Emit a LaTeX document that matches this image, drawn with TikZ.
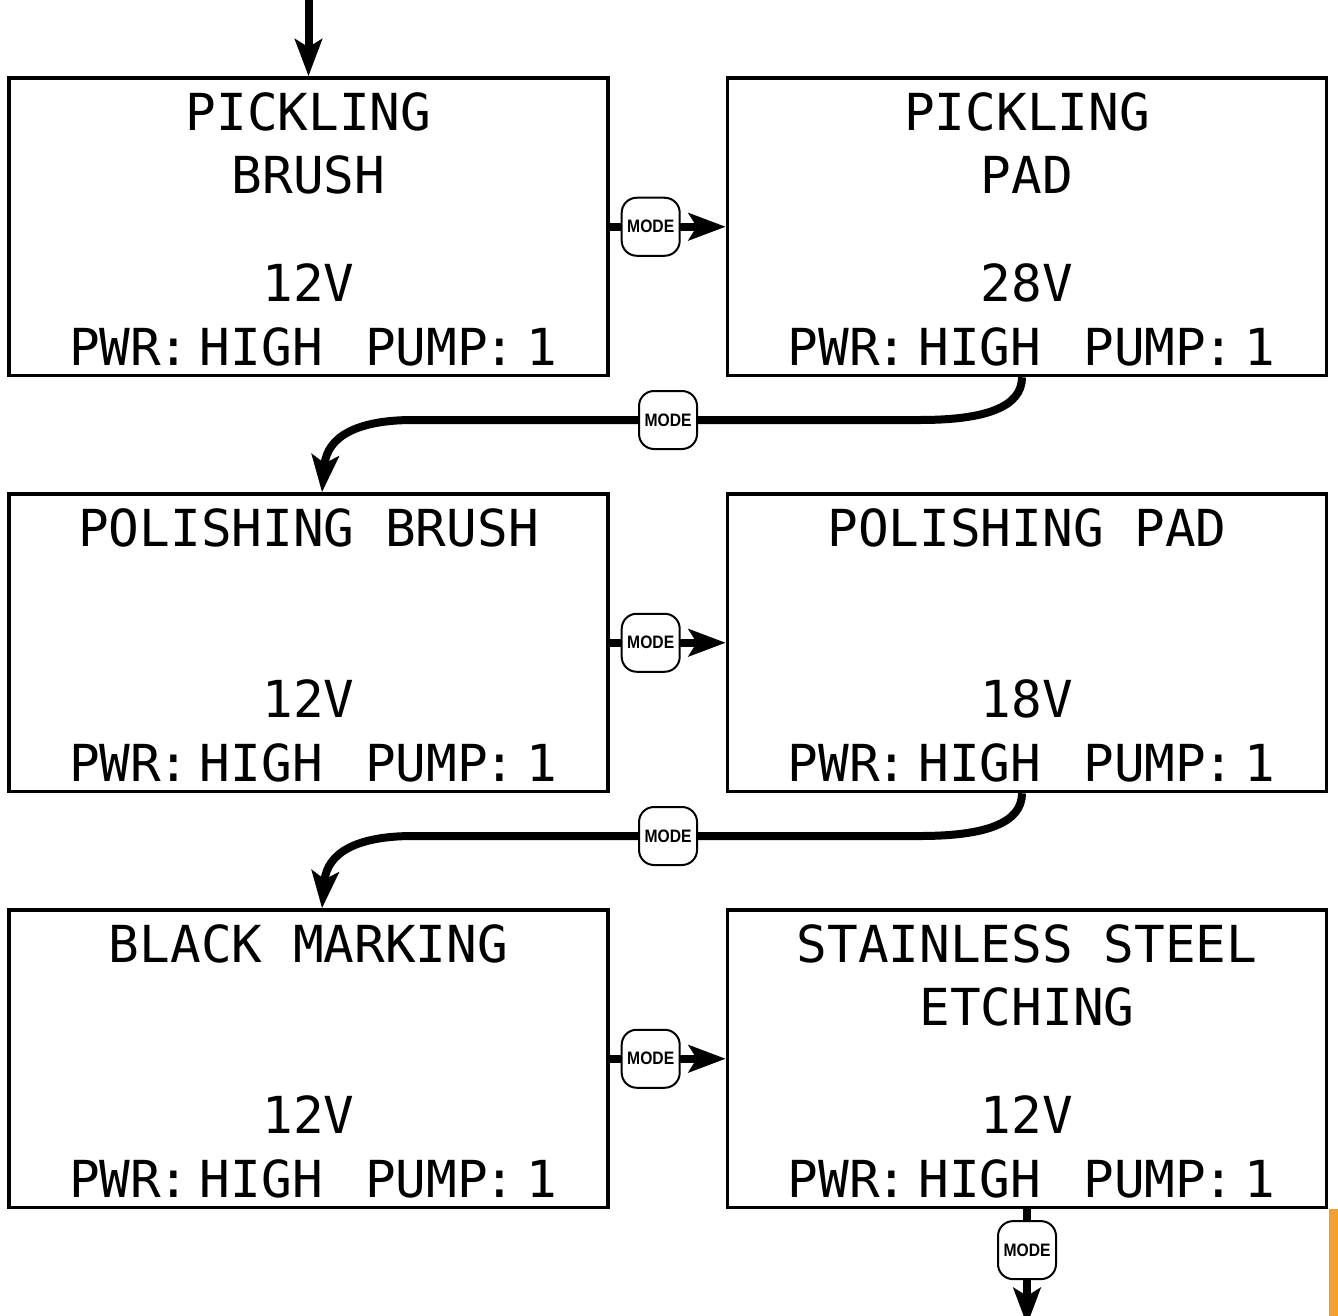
\documentclass[tikz,border=0pt]{standalone}
\usepackage{fontspec}
\newfontfamily\lcdfont{DejaVu Sans Mono}
\newfontfamily\badgefont{Liberation Sans}
\usetikzlibrary{arrows.meta}
\definecolor{orangebar}{RGB}{242,160,48}
\newcommand\pwrline{{\spaceskip=14.1pt PWR\kern-3pt:\kern-3.1pt\ HIGH\ \ \ PUMP\kern-3pt:\kern-3.6pt\ 1}}
\newcommand\modetext{\scalebox{0.87}[1]{MODE}}
\tikzset{
  lcdbox/.style={draw, line width=3.5pt, rectangle, minimum width=599pt, minimum height=297.5pt, inner sep=0pt},
  lcd/.style={font=\lcdfont\fontsize{51}{51}\selectfont, inner sep=0pt, anchor=base},
  badge/.style={draw, line width=2pt, fill=white, rounded corners=15pt, minimum width=58pt, minimum height=58pt, inner sep=0pt, font=\badgefont\bfseries\fontsize{18}{18}\selectfont},
  conn/.style={line width=8pt, -{Stealth[length=37pt,width=27pt,inset=8pt]}}
}
\begin{document}
\begin{tikzpicture}[x=1pt,y=-1pt]
\useasboundingbox (0,0) rectangle (1338,1316);
% boxes
\node[lcdbox] (b1) at (308.5,226.75) {};
\node[lcdbox] (b2) at (1027,226.75) {};
\node[lcdbox] (b3) at (308.5,642.75) {};
\node[lcdbox] (b4) at (1027,642.75) {};
\node[lcdbox] (b5) at (308.5,1058.75) {};
\node[lcdbox] (b6) at (1027,1058.75) {};
% texts row 1
\node[lcd] (t1a) at (308.5,130.5) {PICKLING};
\node[lcd] (t1b) at (308.5,193.5) {BRUSH};
\node[lcd] (t1v) at (308.5,301) {12V};
\node[lcd] (t1p) at (313,365) {\pwrline};
\node[lcd] (t2a) at (1027,130.5) {PICKLING};
\node[lcd] (t2b) at (1027,193.5) {PAD};
\node[lcd] (t2v) at (1027,301) {28V};
\node[lcd] (t2p) at (1031.5,365) {\pwrline};
% texts row 2
\node[lcd] (t3a) at (308.5,546.5) {POLISHING BRUSH};
\node[lcd] (t3v) at (308.5,717) {12V};
\node[lcd] (t3p) at (313,781) {\pwrline};
\node[lcd] (t4a) at (1027,546.5) {POLISHING PAD};
\node[lcd] (t4v) at (1027,717) {18V};
\node[lcd] (t4p) at (1031.5,781) {\pwrline};
% texts row 3
\node[lcd] (t5a) at (308.5,962.5) {BLACK MARKING};
\node[lcd] (t5v) at (308.5,1133) {12V};
\node[lcd] (t5p) at (313,1197) {\pwrline};
\node[lcd] (t6a) at (1027,962.5) {STAINLESS STEEL};
\node[lcd] (t6b) at (1027,1025.5) {ETCHING};
\node[lcd] (t6v) at (1027,1133) {12V};
\node[lcd] (t6p) at (1031.5,1197) {\pwrline};
% connectors
\coordinate (in) at (308.5,-10);
\coordinate (out) at (1027,1325);
\draw[conn] (in) -- (b1.north);
\draw[conn] (b1.east) -- node[badge,pos=0.353] (m1) {\modetext} (b2.west);
\draw[conn] ([xshift=-5pt]b2.south) .. controls +(0,30) and (985,420) .. (920,420)
  -- node[badge,pos=0.497] (m2) {\modetext} (413,420)
  .. controls (358,420) and (327,436) .. ([xshift=13.5pt]b3.north);
\draw[conn] (b3.east) -- node[badge,pos=0.353] (m3) {\modetext} (b4.west);
\draw[conn] ([xshift=-5pt]b4.south) .. controls +(0,30) and (985,836) .. (920,836)
  -- node[badge,pos=0.497] (m4) {\modetext} (413,836)
  .. controls (358,836) and (327,852) .. ([xshift=13.5pt]b5.north);
\draw[conn] (b5.east) -- node[badge,pos=0.353] (m5) {\modetext} (b6.west);
\draw[conn] (b6.south) -- node[badge,pos=0.353] (m6) {\modetext} (out);
% orange edge
\fill[orangebar] (1329,1209) rectangle (1338,1316);
\end{tikzpicture}
\end{document}
